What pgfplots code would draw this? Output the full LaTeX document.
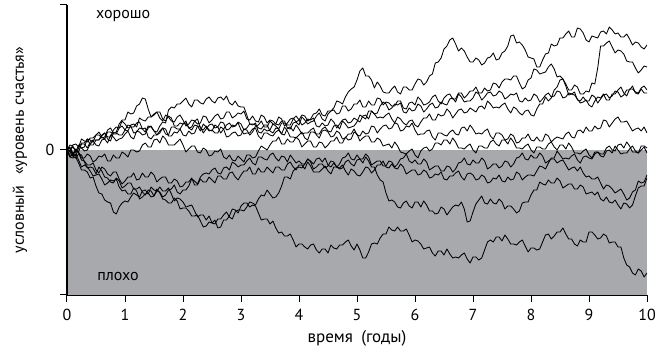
\documentclass[border=0pt]{standalone}
\usepackage{fontspec}
\setmainfont{PT Sans}
\usepackage{pgfplots}
\pgfplotsset{compat=1.18}
\definecolor{badgray}{RGB}{167,169,172}
\pgfplotsset{walk/.style={black, line width=0.85pt, line join=round}}
\begin{document}
\fontsize{16}{19}\selectfont
\begin{tikzpicture}
\begin{axis}[
  at={(0,0)}, anchor=south west,
  scale only axis, width=580pt, height=290pt,
  xmin=0, xmax=10, ymin=-145, ymax=145,
  axis x line*=bottom, axis y line*=left,
  axis on top,
  xtick={0,...,10}, ytick={-145,0,145}, yticklabels={,0,},
  tick align=outside, major tick length=7pt,
  tick style={black, line width=1pt},
  x axis line style={line width=0.6pt},
  y axis line style={line width=1.3pt},
  /pgf/number format/assume math mode=true,
  tick label style={font=\fontsize{16}{19}\selectfont},
  xticklabel style={yshift=-1.5pt},
  xlabel={время\hspace{0.5em}(годы)},
  ylabel={условный\hspace{0.7em}«уровень счастья»},
  label style={font=\fontsize{16}{19}\selectfont},
  x label style={at={(axis description cs:0.5,-0.121)}, anchor=north, inner sep=0pt, font=\fontsize{17}{20}\selectfont},
  y label style={at={(axis description cs:-0.081,0.5)}, anchor=center, inner sep=0pt},
]
\addplot[draw=none, fill=badgray, forget plot] coordinates {(0,-145) (0,0) (10,0) (10,-145)} -- cycle;
% A
\addplot[walk] table[row sep=\\,header=false,x expr=\coordindex*0.05,y index=0] {0\\5\\4\\-1\\2\\7\\7\\11\\5\\5\\10\\10\\14\\17\\11\\9\\17\\17\\15\\15\\
20\\25\\24\\17\\18\\22\\21\\22\\13\\11\\15\\15\\19\\22\\16\\15\\23\\23\\21\\21\\
26\\27\\22\\20\\25\\24\\19\\26\\23\\19\\20\\17\\17\\23\\21\\13\\14\\17\\18\\14\\
15\\21\\20\\15\\18\\24\\25\\29\\23\\23\\29\\26\\26\\33\\31\\24\\27\\31\\32\\28\\
30\\35\\34\\29\\31\\36\\37\\41\\35\\34\\39\\39\\42\\49\\48\\46\\53\\58\\61\\63\\
70\\79\\82\\74\\74\\70\\62\\68\\64\\58\\57\\57\\61\\64\\58\\56\\63\\63\\60\\60\\
66\\71\\70\\65\\68\\74\\76\\87\\88\\92\\101\\104\\110\\112\\106\\99\\102\\99\\93\\88\\
88\\92\\90\\85\\87\\92\\93\\97\\90\\91\\97\\99\\104\\114\\115\\107\\108\\105\\100\\93\\
92\\91\\83\\83\\90\\96\\97\\106\\104\\105\\112\\112\\116\\119\\113\\113\\122\\121\\117\\110\\
108\\114\\113\\112\\118\\119\\116\\123\\120\\116\\117\\113\\113\\116\\111\\105\\108\\107\\103\\101\\
105\\};
% B
\addplot[walk] table[row sep=\\,header=false,x expr=\coordindex*0.05,y index=0] {0\\3\\-3\\-2\\5\\2\\3\\11\\10\\8\\15\\15\\12\\13\\20\\22\\17\\18\\26\\30\\
30\\38\\36\\37\\44\\46\\52\\51\\41\\33\\35\\38\\38\\31\\29\\34\\32\\24\\24\\27\\
26\\29\\22\\23\\29\\26\\27\\34\\33\\27\\30\\34\\36\\31\\32\\38\\38\\32\\34\\37\\
36\\39\\31\\30\\34\\29\\28\\35\\33\\27\\30\\29\\26\\25\\29\\29\\22\\21\\27\\28\\
25\\33\\30\\26\\28\\29\\34\\37\\31\\29\\36\\39\\40\\36\\37\\44\\44\\39\\41\\46\\
46\\50\\43\\43\\49\\45\\45\\52\\51\\45\\48\\47\\44\\44\\49\\49\\42\\41\\47\\48\\
45\\53\\50\\45\\46\\48\\53\\55\\49\\46\\52\\55\\56\\51\\51\\57\\57\\52\\55\\59\\
59\\63\\57\\57\\62\\59\\60\\67\\66\\62\\68\\71\\71\\70\\74\\74\\67\\61\\63\\70\\
72\\81\\80\\76\\77\\78\\83\\86\\81\\73\\74\\71\\66\\60\\60\\65\\63\\56\\56\\59\\
58\\67\\66\\82\\104\\104\\107\\109\\103\\97\\100\\99\\96\\89\\88\\88\\82\\77\\80\\84\\
83\\};
% C
\addplot[walk] table[row sep=\\,header=false,x expr=\coordindex*0.05,y index=0] {0\\2\\-4\\-6\\2\\2\\-1\\0\\6\\9\\5\\4\\10\\11\\7\\15\\13\\9\\11\\12\\
16\\19\\13\\11\\19\\18\\15\\16\\22\\24\\19\\18\\24\\28\\27\\40\\43\\42\\46\\46\\
49\\52\\46\\43\\50\\50\\47\\46\\51\\53\\49\\47\\52\\53\\50\\54\\47\\45\\49\\44\\
43\\43\\35\\26\\26\\25\\22\\21\\25\\25\\19\\17\\22\\21\\16\\23\\19\\13\\13\\12\\
15\\18\\12\\10\\18\\18\\16\\16\\21\\23\\19\\18\\24\\25\\21\\29\\26\\22\\23\\24\\
28\\35\\33\\31\\39\\39\\36\\37\\44\\48\\46\\40\\42\\46\\45\\47\\38\\37\\42\\39\\
40\\46\\44\\38\\41\\45\\47\\42\\43\\48\\46\\45\\51\\52\\48\\56\\53\\48\\49\\49\\
52\\58\\56\\50\\53\\57\\58\\54\\55\\59\\57\\51\\53\\56\\55\\57\\49\\48\\52\\49\\
50\\56\\54\\48\\51\\55\\57\\53\\54\\59\\58\\52\\53\\57\\56\\58\\50\\49\\53\\49\\
49\\55\\53\\47\\51\\55\\56\\52\\54\\59\\58\\53\\55\\60\\60\\64\\57\\56\\61\\57\\
57\\};
% C2
\addplot[walk] table[row sep=\\,header=false,x expr=\coordindex*0.05,y index=0] {0\\-1\\5\\6\\3\\11\\9\\8\\12\\12\\15\\18\\13\\11\\18\\18\\16\\16\\22\\24\\
20\\19\\25\\26\\23\\32\\30\\29\\33\\33\\36\\38\\32\\29\\35\\33\\29\\28\\33\\35\\
30\\24\\26\\30\\29\\31\\22\\20\\24\\20\\19\\25\\23\\17\\21\\25\\27\\23\\24\\28\\
26\\20\\22\\26\\25\\27\\18\\17\\21\\19\\20\\26\\24\\21\\27\\27\\25\\25\\31\\34\\
30\\25\\27\\31\\30\\32\\24\\23\\27\\24\\25\\31\\28\\22\\26\\30\\31\\27\\28\\32\\
30\\28\\34\\35\\31\\39\\36\\32\\33\\32\\35\\37\\31\\27\\33\\31\\27\\25\\29\\30\\
25\\23\\28\\32\\32\\36\\30\\30\\36\\34\\35\\41\\38\\32\\36\\40\\41\\37\\38\\42\\
40\\38\\43\\44\\41\\49\\46\\42\\43\\42\\45\\47\\41\\37\\43\\41\\37\\35\\39\\40\\
35\\34\\41\\46\\46\\53\\49\\52\\60\\63\\70\\71\\64\\55\\56\\55\\51\\47\\48\\50\\
45\\43\\49\\53\\52\\56\\50\\50\\56\\56\\60\\63\\57\\54\\61\\61\\58\\57\\62\\64\\
60\\};
% D
\addplot[walk] table[row sep=\\,header=false,x expr=\coordindex*0.05,y index=0] {0\\-1\\3\\-1\\-2\\6\\6\\2\\8\\10\\10\\10\\15\\17\\13\\13\\20\\23\\22\\29\\
26\\22\\23\\23\\27\\28\\21\\18\\24\\23\\19\\15\\17\\22\\21\\14\\14\\18\\17\\21\\
15\\14\\19\\16\\17\\24\\23\\17\\21\\25\\26\\22\\23\\28\\27\\20\\21\\25\\24\\27\\
20\\16\\17\\17\\21\\22\\14\\11\\17\\17\\15\\14\\18\\20\\16\\15\\22\\23\\19\\25\\
21\\16\\17\\17\\20\\22\\15\\12\\19\\20\\18\\13\\14\\19\\17\\11\\12\\16\\16\\21\\
15\\14\\19\\16\\17\\24\\23\\17\\21\\24\\25\\21\\22\\27\\26\\19\\20\\24\\23\\27\\
20\\15\\16\\16\\19\\20\\13\\10\\17\\17\\15\\14\\18\\20\\16\\15\\22\\23\\19\\25\\
21\\16\\17\\16\\19\\21\\14\\11\\17\\17\\15\\10\\11\\16\\14\\7\\8\\12\\12\\16\\
10\\9\\13\\9\\9\\16\\14\\8\\11\\13\\12\\11\\16\\18\\13\\12\\19\\20\\17\\23\\
19\\19\\24\\21\\22\\30\\29\\23\\27\\31\\33\\28\\28\\29\\24\\19\\21\\22\\19\\23\\
17\\};
% E
\addplot[walk] table[row sep=\\,header=false,x expr=\coordindex*0.05,y index=0] {0\\-7\\-4\\-2\\-2\\-8\\-8\\-4\\-6\\-12\\-10\\-6\\-7\\-4\\-11\\-11\\-5\\-8\\-8\\-2\\
-4\\-7\\0\\0\\-2\\-1\\5\\7\\3\\3\\10\\11\\7\\14\\11\\5\\5\\5\\8\\11\\
5\\-2\\1\\4\\4\\-2\\-3\\2\\0\\-6\\-5\\-1\\-2\\1\\-7\\-9\\-5\\-10\\-11\\-6\\
-9\\-12\\-5\\-5\\-8\\-7\\-1\\4\\2\\0\\5\\9\\9\\13\\6\\6\\11\\8\\8\\13\\
10\\3\\6\\9\\9\\3\\3\\8\\7\\2\\5\\9\\9\\13\\7\\7\\13\\10\\11\\18\\
16\\9\\12\\14\\14\\8\\8\\12\\10\\4\\5\\6\\2\\8\\4\\-2\\-3\\-4\\-1\\1\\
-5\\-8\\-1\\2\\3\\-1\\1\\7\\7\\5\\10\\10\\6\\12\\8\\2\\2\\1\\4\\6\\
0\\-3\\4\\4\\2\\2\\8\\10\\6\\4\\10\\10\\6\\12\\8\\2\\2\\1\\4\\6\\
0\\-3\\3\\3\\1\\1\\6\\8\\3\\0\\5\\5\\1\\7\\3\\-3\\-3\\-4\\-1\\1\\
-5\\-8\\-2\\-2\\-4\\-4\\2\\4\\0\\-1\\5\\6\\2\\8\\4\\-2\\-2\\-3\\0\\3\\
-3\\};
% F
\addplot[walk] table[row sep=\\,header=false,x expr=\coordindex*0.05,y index=0] {0\\0\\-5\\1\\-3\\-10\\-11\\-15\\-15\\-13\\-20\\-23\\-17\\-19\\-24\\-26\\-22\\-22\\-29\\-34\\
-31\\-27\\-27\\-23\\-30\\-29\\-23\\-27\\-27\\-22\\-25\\-32\\-29\\-27\\-27\\-33\\-33\\-29\\-31\\-37\\
-36\\-32\\-32\\-28\\-35\\-35\\-29\\-32\\-32\\-27\\-30\\-33\\-26\\-26\\-29\\-29\\-23\\-22\\-27\\-30\\
-25\\-21\\-21\\-17\\-24\\-24\\-18\\-22\\-22\\-17\\-20\\-23\\-17\\-17\\-20\\-20\\-14\\-12\\-17\\-20\\
-15\\-15\\-19\\-12\\-16\\-22\\-22\\-22\\-19\\-16\\-21\\-24\\-17\\-17\\-19\\-18\\-12\\-10\\-14\\-16\\
-10\\-9\\-13\\-7\\-11\\-17\\-17\\-25\\-30\\-32\\-43\\-51\\-50\\-52\\-57\\-58\\-53\\-51\\-56\\-58\\
-52\\-52\\-57\\-51\\-55\\-61\\-61\\-64\\-63\\-57\\-59\\-65\\-61\\-57\\-55\\-56\\-52\\-59\\-72\\-71\\
-62\\-54\\-50\\-46\\-53\\-54\\-49\\-53\\-54\\-49\\-52\\-59\\-56\\-56\\-59\\-63\\-61\\-53\\-52\\-52\\
-45\\-40\\-40\\-32\\-34\\-35\\-30\\-33\\-33\\-28\\-31\\-38\\-36\\-34\\-34\\-39\\-39\\-35\\-37\\-44\\
-43\\-42\\-45\\-42\\-49\\-51\\-47\\-52\\-53\\-50\\-55\\-59\\-53\\-54\\-58\\-55\\-46\\-38\\-36\\-36\\
-28\\};
% H
\addplot[walk] table[row sep=\\,header=false,x expr=\coordindex*0.05,y index=0] {0\\-5\\-6\\-4\\-10\\-17\\-15\\-17\\-21\\-26\\-25\\-24\\-29\\-35\\-33\\-30\\-31\\-29\\-37\\-41\\
-40\\-44\\-44\\-38\\-41\\-49\\-47\\-44\\-43\\-47\\-46\\-41\\-42\\-47\\-45\\-40\\-39\\-35\\-42\\-44\\
-40\\-40\\-36\\-29\\-31\\-34\\-27\\-24\\-23\\-24\\-20\\-18\\-23\\-24\\-18\\-17\\-20\\-12\\-14\\-17\\
-15\\-15\\-11\\-8\\-13\\-15\\-7\\-7\\-9\\-10\\-5\\-3\\-8\\-11\\-6\\-7\\-12\\-5\\-9\\-13\\
-11\\-14\\-14\\-9\\-12\\-19\\-17\\-14\\-14\\-18\\-16\\-11\\-12\\-17\\-14\\-8\\-7\\-3\\-9\\-10\\
-5\\-9\\-9\\-4\\-7\\-15\\-13\\-11\\-11\\-16\\-16\\-11\\-12\\-17\\-14\\-9\\-8\\-4\\-11\\-13\\
-10\\-14\\-14\\-9\\-12\\-20\\-18\\-16\\-16\\-21\\-21\\-16\\-17\\-22\\-19\\-13\\-12\\-8\\-14\\-15\\
-10\\-13\\-13\\-8\\-11\\-19\\-17\\-14\\-14\\-18\\-16\\-11\\-12\\-17\\-14\\-8\\-7\\-3\\-9\\-10\\
-5\\-8\\-8\\-3\\-6\\-13\\-11\\-9\\-9\\-13\\-11\\-10\\-15\\-20\\-18\\-17\\-21\\-17\\-23\\-27\\
-26\\-29\\-29\\-27\\-33\\-39\\-35\\-36\\-39\\-43\\-41\\-39\\-44\\-50\\-48\\-42\\-40\\-31\\-33\\-32\\
-25\\};
% G
\addplot[walk] table[row sep=\\,header=false,x expr=\coordindex*0.05,y index=0] {0\\-2\\-6\\-8\\-4\\-5\\-12\\-18\\-17\\-18\\-24\\-17\\-21\\-27\\-28\\-32\\-33\\-28\\-31\\-38\\
-36\\-33\\-33\\-39\\-39\\-37\\-42\\-45\\-40\\-41\\-46\\-39\\-43\\-49\\-50\\-53\\-53\\-48\\-51\\-59\\
-58\\-58\\-61\\-66\\-66\\-65\\-71\\-77\\-76\\-72\\-73\\-70\\-78\\-77\\-70\\-70\\-66\\-59\\-60\\-63\\
-56\\-53\\-53\\-57\\-55\\-56\\-63\\-70\\-69\\-69\\-74\\-71\\-78\\-83\\-82\\-86\\-86\\-84\\-90\\-97\\
-94\\-94\\-97\\-99\\-95\\-94\\-100\\-103\\-99\\-99\\-103\\-95\\-98\\-99\\-95\\-95\\-92\\-90\\-96\\-100\\
-94\\-100\\-108\\-108\\-102\\-94\\-93\\-94\\-88\\-84\\-84\\-77\\-80\\-81\\-77\\-81\\-81\\-79\\-85\\-92\\
-90\\-91\\-94\\-99\\-98\\-97\\-103\\-106\\-101\\-101\\-105\\-99\\-104\\-108\\-107\\-108\\-105\\-103\\-109\\-113\\
-107\\-107\\-110\\-108\\-100\\-92\\-90\\-92\\-87\\-87\\-91\\-85\\-89\\-94\\-94\\-95\\-92\\-90\\-96\\-102\\
-98\\-98\\-100\\-99\\-92\\-85\\-84\\-89\\-86\\-82\\-82\\-78\\-84\\-89\\-89\\-94\\-96\\-90\\-92\\-92\\
-82\\-82\\-85\\-89\\-88\\-84\\-86\\-93\\-92\\-92\\-97\\-97\\-108\\-115\\-117\\-123\\-125\\-119\\-121\\-127\\
-123\\};
% J
\addplot[walk] table[row sep=\\,header=false,x expr=\coordindex*0.05,y index=0] {0\\-7\\-8\\-7\\-13\\-20\\-20\\-22\\-28\\-27\\-36\\-43\\-44\\-50\\-52\\-53\\-62\\-64\\-57\\-53\\
-51\\-52\\-47\\-43\\-45\\-47\\-41\\-40\\-44\\-37\\-40\\-41\\-37\\-41\\-41\\-38\\-44\\-51\\-48\\-49\\
-52\\-57\\-56\\-55\\-61\\-67\\-65\\-65\\-70\\-66\\-73\\-74\\-69\\-69\\-65\\-62\\-67\\-69\\-62\\-60\\
-60\\-61\\-57\\-52\\-53\\-55\\-49\\-45\\-46\\-40\\-44\\-48\\-47\\-43\\-36\\-27\\-27\\-29\\-21\\-18\\
-17\\-18\\-14\\-9\\-11\\-14\\-9\\-8\\-12\\-8\\-15\\-17\\-13\\-17\\-18\\-15\\-21\\-25\\-19\\-21\\
-25\\-26\\-22\\-17\\-18\\-23\\-20\\-15\\-15\\-11\\-17\\-18\\-14\\-18\\-19\\-14\\-17\\-24\\-22\\-20\\
-20\\-25\\-24\\-20\\-22\\-28\\-27\\-24\\-25\\-22\\-29\\-30\\-26\\-26\\-23\\-21\\-27\\-30\\-24\\-23\\
-25\\-30\\-29\\-25\\-27\\-33\\-32\\-28\\-29\\-25\\-31\\-32\\-27\\-30\\-29\\-22\\-24\\-30\\-27\\-25\\
-25\\-26\\-21\\-16\\-17\\-19\\-13\\-8\\-8\\-1\\-5\\-9\\-8\\-9\\-6\\-4\\-10\\-13\\-7\\-6\\
-8\\-9\\-4\\-2\\-6\\-7\\-1\\0\\-3\\4\\0\\-4\\-3\\-3\\1\\4\\-1\\-3\\4\\4\\
2\\};
\node[anchor=west, inner sep=0pt, font=\fontsize{16}{19}\selectfont] at (axis cs:0.5,134) {хорошо};
\node[anchor=west, inner sep=0pt, font=\fontsize{16}{19}\selectfont] at (axis cs:0.52,-127) {плохо};
\end{axis}
\pgfresetboundingbox
\path[use as bounding box] (-67pt,-57pt) rectangle (594pt,295pt);
\end{tikzpicture}
\end{document}
